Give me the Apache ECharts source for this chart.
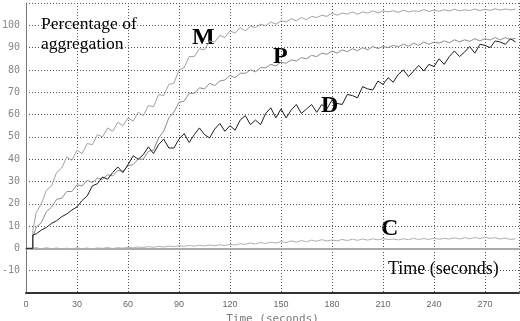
<!DOCTYPE html>
<html>
<head>
<meta charset="utf-8">
<script src="https://cdn.jsdelivr.net/npm/echarts@6/dist/echarts.min.js"></script>
<style>
  html, body { margin: 0; padding: 0; background: #fff; }
  #chart { width: 520px; height: 321px; }
</style>
</head>
<body>
<div id="chart"></div>
<script>
// time in seconds (the 4 s point is doubled: the jump when agonist is added)
const times = [0, 2, 4, 4, 6, 9, 12, 15, 18, 21, 24, 27, 30, 33, 36, 39, 42, 45, 48, 51, 54, 57, 60,
  63, 66, 69, 72, 75, 78, 81, 84, 87, 90, 93, 96, 99, 102, 105, 108, 111, 114, 117, 120,
  123, 126, 129, 132, 135, 138, 141, 144, 147, 150, 153, 156, 159, 162, 165, 168, 171, 174, 177, 180,
  183, 186, 189, 192, 195, 198, 201, 204, 207, 210, 213, 216, 219, 222, 225, 228, 231, 234, 237, 240,
  243, 246, 249, 252, 255, 258, 261, 264, 267, 270, 273, 276, 279, 282, 285, 288];

// percentage of aggregation
const seriesM = [0, 0, 0, 8, 16, 20, 26, 28, 34, 36, 41, 39.5, 44, 42.5, 47, 46.5, 51, 50, 54, 52.5, 56.5, 55, 58.5,
  57, 61, 59.5, 64, 63.5, 69, 68.5, 73.5, 74, 80, 81, 86, 86, 89.5, 89, 93, 92.5, 95.5, 94.5, 97.5,
  96.5, 99, 97.5, 99.5, 99, 100.5, 99.8, 101.5, 100.5, 102, 101.5, 103, 102, 103.5, 102.5, 104, 103.5, 104.5, 104, 105.5,
  104.5, 105.5, 105, 106, 105, 106, 105.5, 106.5, 105.5, 106.5, 106, 106.5, 105.8, 106.8, 106, 106.5, 106.2, 107, 106.2, 106.8,
  106.3, 107, 106.4, 107.2, 106.5, 107, 106.6, 107.3, 106.6, 107.2, 106.7, 107.4, 106.8, 107.3, 106.9, 107.2];

const seriesP = [0, 0, 0, 5, 9.5, 11.5, 16.5, 18.5, 22, 22.5, 25.5, 25.5, 28.5, 28, 30.5, 29.5, 31.5, 31, 33, 32.5, 35, 34.5, 37,
  37.5, 40, 40, 43.5, 44, 49.5, 52.5, 58.5, 61, 65.5, 66, 69.5, 69.5, 72, 71.5, 74, 73, 75, 75.5, 77.5,
  76.5, 78.5, 78.5, 80, 79.2, 81, 81, 82.5, 81.8, 83.5, 83, 84.5, 84, 85.5, 85, 86.5, 86, 87.5, 87, 88.5,
  87.5, 89, 88.2, 89.5, 88.6, 90, 89, 90.5, 89.6, 90.5, 90, 91, 90.4, 91.5, 90.6, 92, 91, 92.5, 91.5, 92.5,
  92, 93, 92.2, 93.5, 92.6, 93.5, 92.8, 94, 93, 94, 93.4, 94.5, 93.5, 94.5, 93.6, 94.2];

const seriesD = [0, 0, 0, 6, 6.5, 8.2, 9.4, 11.2, 12.4, 14.2, 15.4, 17.2, 18.6, 21.5, 23.5, 28, 29, 32, 31, 34, 36.5, 34, 37.5,
  41.5, 40, 42, 45.5, 42.5, 46.5, 49, 45, 45, 49, 51.5, 47.5, 51, 54, 51, 49.5, 53.5, 56, 52.5, 55,
  53, 57.5, 59.5, 55.5, 57.5, 55.5, 60.5, 63, 58.5, 62.5, 58.5, 62, 64.5, 60.5, 62.5, 64.5, 61, 64.5, 62.5, 66.5,
  65, 64.5, 69, 68.5, 67.5, 72.5, 71.5, 71, 75, 73.5, 76.5, 74.5, 78, 80, 77, 79.5, 82, 79.5, 82.5, 81.5,
  85, 82.5, 86, 88.5, 86, 88, 90.5, 87.5, 91.5, 91, 90, 93, 92.5, 91.5, 94, 92.5];

const seriesC = [0, 0, 0, 0, 0.4, -0.3, 0.3, -0.2, 0.2, -0.4, 0.1, -0.3, 0.3, -0.2, 0.2, -0.3, 0.2, 0, 0.4, -0.1, 0.3, 0.1, 0.5,
  0.2, 0.6, 0.4, 0.8, 0.5, 0.9, 0.6, 1.0, 0.8, 1.2, 0.9, 1.3, 1.0, 1.4, 1.1, 1.5, 1.2, 1.6, 1.3, 1.8,
  1.5, 2.1, 1.8, 2.4, 2.0, 2.6, 2.2, 2.8, 2.4, 3.0, 2.6, 3.4, 2.8, 3.5, 3.0, 3.7, 3.2, 3.9, 3.3, 3.8,
  3.4, 4.0, 3.5, 4.1, 3.6, 4.2, 3.7, 4.3, 3.8, 4.4, 3.9, 4.2, 3.8, 4.3, 3.9, 4.5, 4.0, 4.4, 4.0, 4.6,
  4.1, 4.5, 4.2, 4.7, 4.2, 4.8, 4.3, 4.9, 4.4, 5.0, 4.5, 4.8, 4.2, 4.6, 4.0, 4.3];

const traceNames = ['C', 'M', 'P', 'D'];
const traceValues = [seriesC, seriesM, seriesP, seriesD];
const traceColors = ['#b0b0b0', '#a2a2a2', '#8c8c8c', '#1e1e1e'];

const chart = echarts.init(document.getElementById('chart'), null, { renderer: 'canvas' });

const seriesList = traceNames.map(function (name, k) {
  return {
    name: name,
    type: 'line',
    showSymbol: false,
    animation: false,
    lineStyle: { width: 1, color: traceColors[k] },
    data: times.map(function (t, i) { return [t, traceValues[k][i]]; })
  };
});

const serif = '"Liberation Serif", "Times New Roman", serif';

const option = {
  backgroundColor: '#fff',
  animation: false,
  grid: { left: 26, right: 1, top: 3, bottom: 28, containLabel: false, outerBoundsMode: 'none' },
  xAxis: [{
    type: 'value',
    min: 0,
    max: 290,
    interval: 30,
    name: 'Time (seconds)',
    nameLocation: 'middle',
    nameGap: 12,
    nameTextStyle: { fontFamily: 'DejaVu Sans Mono', fontSize: 11, color: '#7a7a7a' },
    axisLine: { show: true, onZero: false, lineStyle: { color: '#333', width: 2 } },
    axisTick: { show: false },
    axisLabel: {
      showMaxLabel: false,
      margin: 7,
      fontFamily: 'Liberation Sans',
      fontSize: 9,
      color: '#666'
    },
    splitLine: { show: true, lineStyle: { type: [1, 2], color: '#555', width: 1 } }
  }, {
    type: 'value',
    position: 'top',
    min: 0,
    max: 290,
    axisLine: { show: true, lineStyle: { color: '#aaa', width: 2 } },
    axisTick: { show: false },
    axisLabel: { show: false },
    splitLine: { show: false }
  }],
  yAxis: {
    type: 'value',
    min: -20,
    max: 110,
    interval: 10,
    axisLine: { show: true, lineStyle: { color: '#777', width: 1 } },
    axisTick: { show: false },
    axisLabel: {
      margin: 6,
      fontFamily: 'DejaVu Sans Mono',
      fontSize: 10,
      color: '#888',
      formatter: function (v) { return (v < -10 || v > 100) ? '' : String(v); }
    },
    splitLine: { show: true, lineStyle: { type: [1, 2], color: '#555', width: 1 } }
  },
  graphic: [
    { type: 'text', left: 41, top: 14, style: { text: 'Percentage of\naggregation', font: '17.5px ' + serif, fill: '#000', lineHeight: 20 } },
    { type: 'text', left: 192, top: 26, style: { text: 'M', font: 'bold 24px ' + serif, fill: '#000' } },
    { type: 'text', left: 273, top: 45, style: { text: 'P', font: 'bold 24px ' + serif, fill: '#000' } },
    { type: 'text', left: 321, top: 94, style: { text: 'D', font: 'bold 24px ' + serif, fill: '#000' } },
    { type: 'text', left: 381, top: 217, style: { text: 'C', font: 'bold 24px ' + serif, fill: '#000' } },
    { type: 'text', left: 388, top: 260, style: { text: 'Time (seconds)', font: '18px ' + serif, fill: '#000' } }
  ],
  series: seriesList
};

chart.setOption(option);
</script>
</body>
</html>
